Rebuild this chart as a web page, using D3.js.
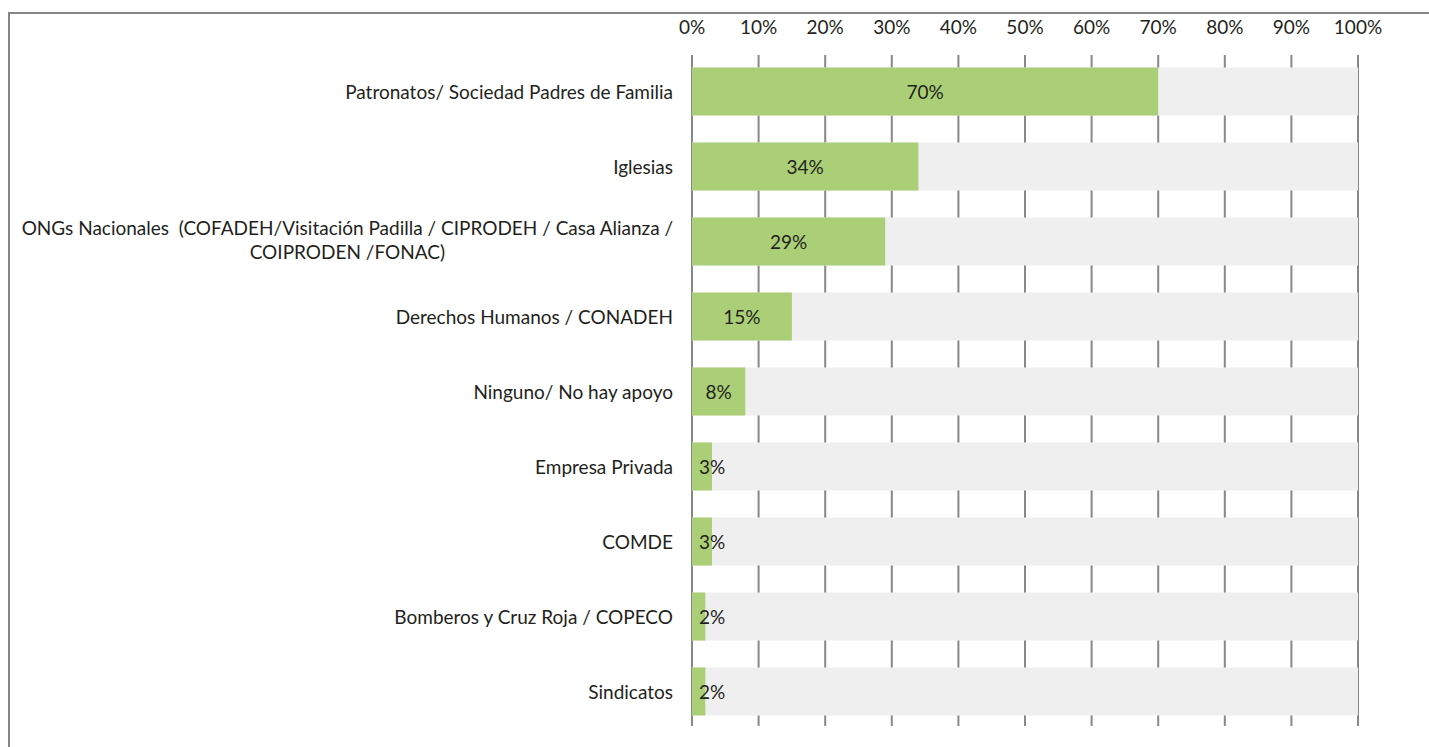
<html>
<head>
<meta charset="utf-8">
<script src="https://d3js.org/d3.v7.min.js"></script>
<style> body {margin: 0; background: #fff;} text {white-space: pre;} </style>
</head>
<body>
<svg width="1429" height="747"></svg>
<script>
var categories = [
  ['Patronatos/ Sociedad Padres de Familia'],
  ['Iglesias'],
  ['ONGs Nacionales  (COFADEH/Visitación Padilla / CIPRODEH / Casa Alianza /', 'COIPRODEN /FONAC)'],
  ['Derechos Humanos / CONADEH'],
  ['Ninguno/ No hay apoyo'],
  ['Empresa Privada'],
  ['COMDE'],
  ['Bomberos y Cruz Roja / COPECO'],
  ['Sindicatos']
];
var values = [70, 34, 29, 15, 8, 3, 3, 2, 2];
var tickValues = [0, 10, 20, 30, 40, 50, 60, 70, 80, 90, 100];

var font = 'Lato';
var fontSize = '19px';
var svg = d3.select('svg');

// frame lines at top and left
svg.append('line').attr('x1', 8).attr('x2', 1429).attr('y1', 13).attr('y2', 13)
   .style('stroke', '#858585').style('stroke-width', 2);
svg.append('line').attr('x1', 9).attr('x2', 9).attr('y1', 12).attr('y2', 747)
   .style('stroke', '#858585').style('stroke-width', 2);

var x = d3.scaleLinear().domain([0, 100]).range([692, 1358]);
var y = d3.scaleBand().domain(d3.range(values.length)).range([54, 729])
  .paddingInner(0.36).paddingOuter(0.18);

// grid lines
svg.append('g').selectAll('line').data(tickValues).enter().append('line')
  .attr('x1', function(d) { return x(d); })
  .attr('x2', function(d) { return x(d); })
  .attr('y1', 55).attr('y2', 726)
  .style('stroke', '#888').style('stroke-width', 2);

// tick labels
svg.append('g').selectAll('text').data(tickValues).enter().append('text')
  .attr('x', function(d) { return x(d); })
  .attr('y', 34)
  .attr('text-anchor', 'middle')
  .style('font-family', font).style('font-size', fontSize).style('fill', '#231f20')
  .text(function(d) { return d + '%'; });

// background bars
svg.append('g').selectAll('rect').data(values).enter().append('rect')
  .attr('x', x(0)).attr('y', function(d, i) { return y(i); })
  .attr('width', x(100) - x(0)).attr('height', y.bandwidth())
  .style('fill', '#efefef');

// value bars
svg.append('g').selectAll('rect').data(values).enter().append('rect')
  .attr('x', x(0)).attr('y', function(d, i) { return y(i); })
  .attr('width', function(d) { return x(d) - x(0); }).attr('height', y.bandwidth())
  .style('fill', '#abcf76');

// value labels
svg.append('g').selectAll('text').data(values).enter().append('text')
  .attr('x', function(d) { return Math.max((x(0) + x(d)) / 2, x(0) + 20); })
  .attr('y', function(d, i) { return y(i) + y.bandwidth() / 2 + 7; })
  .attr('text-anchor', 'middle')
  .style('font-family', font).style('font-size', fontSize).style('fill', '#231f20')
  .text(function(d) { return d + '%'; });

// category labels
var labels = svg.append('g').selectAll('g').data(categories).enter().append('g');
labels.each(function(lines, i) {
  var g = d3.select(this);
  var cy = y(i) + y.bandwidth() / 2;
  var t = g.append('text')
    .style('font-family', font).style('font-size', fontSize).style('fill', '#231f20');
  t.selectAll('tspan').data(lines).enter().append('tspan').text(function(d) { return d; });
  var widths = [];
  t.selectAll('tspan').each(function() { widths.push(this.getComputedTextLength()); });
  var maxW = d3.max(widths);
  var cx = 673 - maxW / 2;
  t.selectAll('tspan')
    .attr('x', cx)
    .attr('text-anchor', 'middle')
    .attr('y', function(d, j) { return cy + 7 + (j - (lines.length - 1) / 2) * 24 - (lines.length > 1 ? 2 : 0); });
});
</script>
</body>
</html>
